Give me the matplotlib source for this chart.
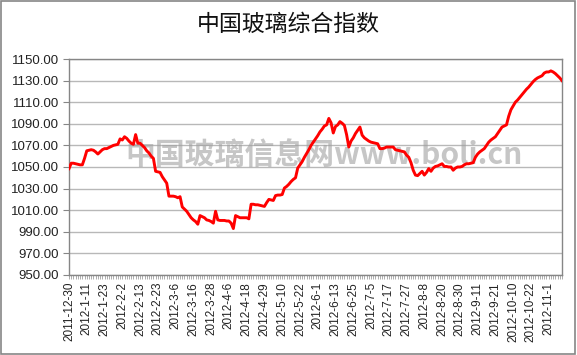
import matplotlib
matplotlib.use("Agg")
import matplotlib.pyplot as plt
from matplotlib.patches import Rectangle

plt.rcParams['font.family'] = ['Liberation Sans', 'Noto Sans CJK SC', 'DejaVu Sans']

TITLE = "中国玻璃综合指数"
WATERMARK = "中国玻璃信息网www.boli.cn"

# tick labels, one every 8 trading days
TICK_LABELS = ["2011-12-30", "2012-1-11", "2012-1-23", "2012-2-2", "2012-2-13",
               "2012-2-23", "2012-3-6", "2012-3-16", "2012-3-28", "2012-4-6",
               "2012-4-18", "2012-4-29", "2012-5-10", "2012-5-22", "2012-6-1",
               "2012-6-13", "2012-6-25", "2012-7-5", "2012-7-17", "2012-7-27",
               "2012-8-8", "2012-8-20", "2012-8-30", "2012-9-11", "2012-9-21",
               "2012-10-10", "2012-10-22", "2012-11-1"]
LABEL_STEP = 8

# index values (one per trading day)
INDEX = [
    1048.5, 1053.5, 1053.5, 1053.0, 1052.5, 1052.0, 1052.0, 1058.0,
    1065.0, 1065.5, 1066.0, 1065.5, 1064.0, 1062.0, 1064.0, 1066.0,
    1067.0, 1067.0, 1068.0, 1069.0, 1070.0, 1070.5, 1071.0, 1076.0,
    1075.0, 1078.0, 1076.5, 1074.0, 1072.0, 1071.0, 1080.0, 1072.0,
    1072.0, 1070.0, 1068.0, 1065.0, 1063.0, 1060.0, 1058.0, 1046.0,
    1045.5, 1045.0, 1041.0, 1038.0, 1035.0, 1023.0, 1023.0, 1023.0,
    1022.5, 1021.5, 1022.5, 1013.0, 1011.0, 1009.0, 1006.0, 1003.0,
    1001.0, 999.5, 997.0, 1005.0, 1004.0, 1003.0, 1001.0, 1000.5,
    999.5, 998.0, 1009.0, 1001.0, 1000.5, 1000.5, 1000.5, 1000.0,
    1000.0, 998.0, 993.0, 1005.0, 1004.0, 1003.0, 1003.0, 1003.0,
    1003.0, 1002.0, 1015.5, 1015.5, 1015.0, 1015.0, 1014.5, 1014.0,
    1013.5, 1017.0, 1020.0, 1019.5, 1019.0, 1023.5, 1024.0, 1024.0,
    1024.5, 1030.5, 1032.0, 1034.0, 1036.5, 1038.5, 1040.0, 1049.0,
    1052.0, 1055.0, 1059.0, 1062.5, 1066.0, 1070.0, 1073.0, 1076.0,
    1079.0, 1082.5, 1085.0, 1088.0, 1089.0, 1095.0, 1091.0, 1081.5,
    1087.5, 1089.0, 1092.0, 1090.5, 1088.5, 1080.0, 1068.5, 1074.0,
    1077.0, 1081.0, 1084.0, 1087.0, 1079.5, 1077.0, 1075.5, 1074.0,
    1073.0, 1072.5, 1072.0, 1071.5, 1067.0, 1067.0, 1067.5, 1068.5,
    1068.5, 1068.5, 1068.5, 1066.0, 1065.5, 1065.0, 1064.5, 1064.0,
    1061.0, 1059.0, 1054.0, 1047.0, 1042.5, 1042.0, 1044.0, 1046.0,
    1042.5, 1045.0, 1048.5, 1046.0, 1049.0, 1050.5, 1051.0, 1052.0,
    1053.0, 1050.5, 1050.5, 1050.0, 1050.0, 1047.0, 1049.0, 1050.0,
    1050.0, 1050.5, 1052.0, 1053.0, 1053.0, 1053.5, 1054.0, 1059.0,
    1062.0, 1064.0, 1065.5, 1067.0, 1070.0, 1073.0, 1075.0, 1076.5,
    1078.0, 1081.0, 1084.0, 1087.0, 1088.0, 1089.0, 1097.0, 1103.0,
    1106.5, 1110.0, 1112.0, 1114.5, 1117.0, 1119.5, 1122.0, 1124.0,
    1126.5, 1129.0, 1131.0, 1132.5, 1133.5, 1134.5, 1137.0, 1138.0,
    1138.0, 1139.0, 1138.0, 1136.5, 1134.5, 1132.5, 1130.0,
]

Y_TICKS = list(range(950, 1151, 20))

fig = plt.figure(figsize=(5.77, 3.55), dpi=100)
ax = fig.add_axes([0.1196, 0.2254, 0.8544, 0.6084])

n = len(INDEX)
x = list(range(n))
ax.plot(x, INDEX, color="#ff0000", lw=2.1, zorder=3)

ax.set_xlim(0, n - 1)
ax.set_ylim(950, 1150)
ax.set_yticks(Y_TICKS)
ax.set_yticklabels([f"{v:.2f}" for v in Y_TICKS], fontsize=9.5, color="#222222")

ticks = list(range(n))
labels = [""] * n
for k, lab in enumerate(TICK_LABELS):
    labels[k * LABEL_STEP] = lab
ax.set_xticks(ticks)
ax.set_xticklabels(labels, rotation=90, fontsize=8.5, color="#222222")
ax.tick_params(axis="x", length=3, width=0.6, color="#a0a0a0", pad=2)
ax.tick_params(axis="y", length=4, width=0.8, color="#868686", pad=3)

ax.grid(axis="y", color="#b8b8b8", lw=1.0)
ax.set_axisbelow(True)
for s in ax.spines.values():
    s.set_color("#868686")
    s.set_linewidth(1.0)

ax.text(0.518, 0.555, WATERMARK, transform=ax.transAxes, ha="center", va="center",
        fontsize=21.5, fontweight="bold", color="#a0a0a0", alpha=0.6,
        family=['Noto Sans CJK SC', 'DejaVu Sans'], zorder=2)

fig.text(0.5, 0.93, TITLE, ha="center", va="center", fontsize=16.5,
         family=['Noto Sans CJK SC', 'DejaVu Sans'], color="#111111")

fig.patches.append(Rectangle((0.002, 0.003), 0.995, 0.994, transform=fig.transFigure,
                             fill=False, edgecolor="#868686", lw=1.2))

fig.savefig("out.png", dpi=100)
